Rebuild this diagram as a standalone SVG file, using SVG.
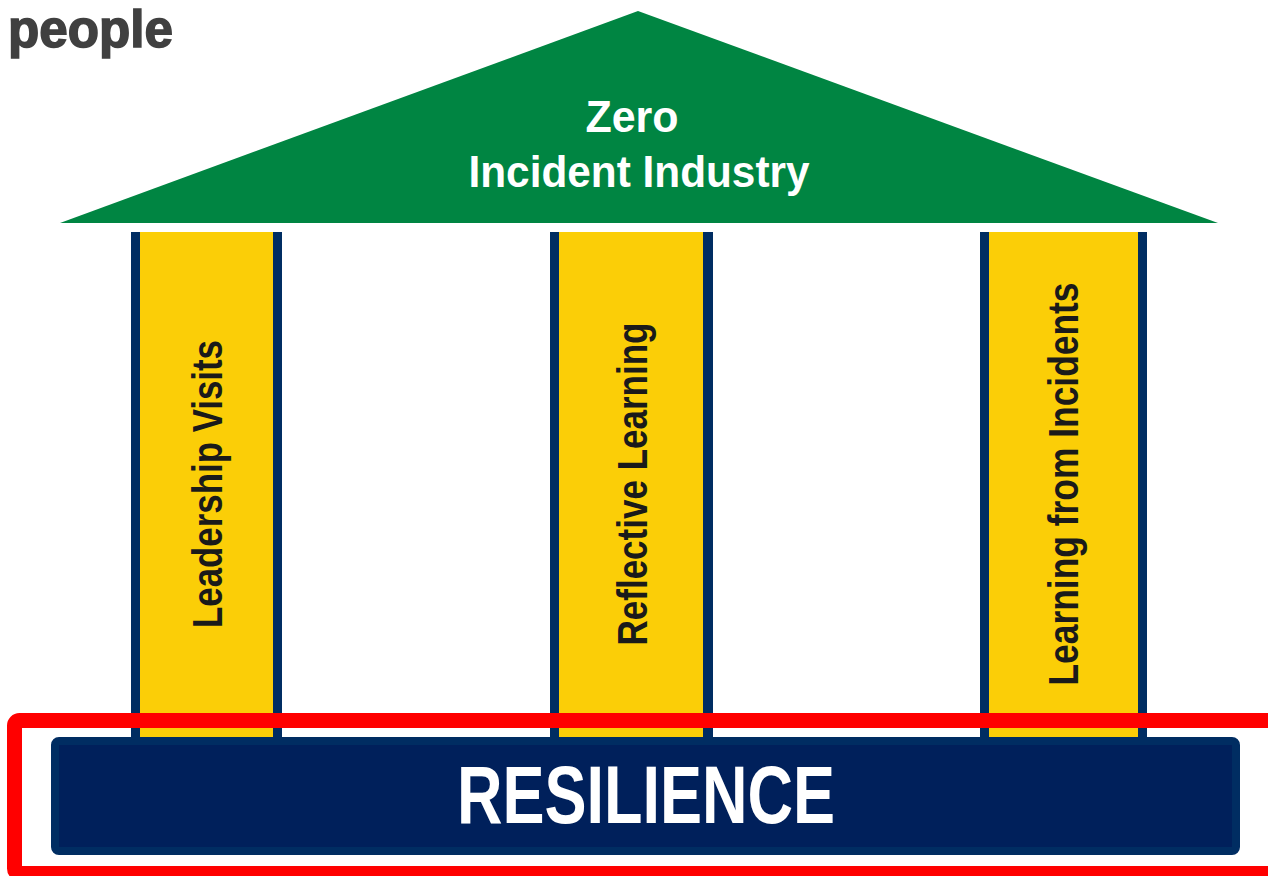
<svg xmlns="http://www.w3.org/2000/svg" width="1268" height="876" viewBox="0 0 1268 876">
<style>
.pillar-edge{fill:#002D62}
.pillar-core{fill:#FBCE07}
.ptext{font-family:"Liberation Sans",Arial,sans-serif;font-weight:bold;font-size:42px;fill:#1a1a1a;text-anchor:middle}
.roof{fill:#008542}
.rtext{font-family:"Liberation Sans",Arial,sans-serif;font-weight:bold;font-size:45px;fill:#ffffff;text-anchor:middle}
</style>
<rect width="1268" height="876" fill="#ffffff"/>
<g id="title">
<text x="8" y="47" font-family="Liberation Sans, Arial, sans-serif" font-weight="bold" font-size="51" fill="#404040" stroke="#404040" stroke-width="1.5" textLength="165" lengthAdjust="spacingAndGlyphs">people</text>
</g>
<g id="roof">
<polygon class="roof" points="60,223 638,11 1218,223"/>
<text class="rtext" x="632" y="132" textLength="93" lengthAdjust="spacingAndGlyphs">Zero</text>
<text class="rtext" x="639" y="187" textLength="341" lengthAdjust="spacingAndGlyphs">Incident Industry</text>
</g>
<g id="pillar-leadership">
<rect class="pillar-edge" x="131" y="232" width="151" height="510"/>
<rect class="pillar-core" x="140" y="232" width="133" height="510"/>
<text class="ptext" transform="translate(222,484) rotate(-90)" textLength="288" lengthAdjust="spacingAndGlyphs">Leadership Visits</text>
</g>
<g id="pillar-reflective">
<rect class="pillar-edge" x="550" y="232" width="163" height="510"/>
<rect class="pillar-core" x="559" y="232" width="144" height="510"/>
<text class="ptext" transform="translate(647,484) rotate(-90)" textLength="323" lengthAdjust="spacingAndGlyphs">Reflective Learning</text>
</g>
<g id="pillar-incidents">
<rect class="pillar-edge" x="980" y="232" width="167" height="510"/>
<rect class="pillar-core" x="989" y="232" width="149" height="510"/>
<text class="ptext" transform="translate(1078,484) rotate(-90)" textLength="403" lengthAdjust="spacingAndGlyphs">Learning from Incidents</text>
</g>
<g id="highlight">
<rect x="14.5" y="720.5" width="1270" height="153" rx="5" fill="none" stroke="#FF0000" stroke-width="15"/>
</g>
<g id="base">
<rect x="55" y="741" width="1181" height="110" rx="4" fill="#00205B" stroke="#002D62" stroke-width="8"/>
<text x="646" y="823" font-family="Liberation Sans, Arial, sans-serif" font-weight="bold" font-size="82" fill="#ffffff" text-anchor="middle" textLength="378" lengthAdjust="spacingAndGlyphs">RESILIENCE</text>
</g>
<g id="connectors"/>
</svg>
